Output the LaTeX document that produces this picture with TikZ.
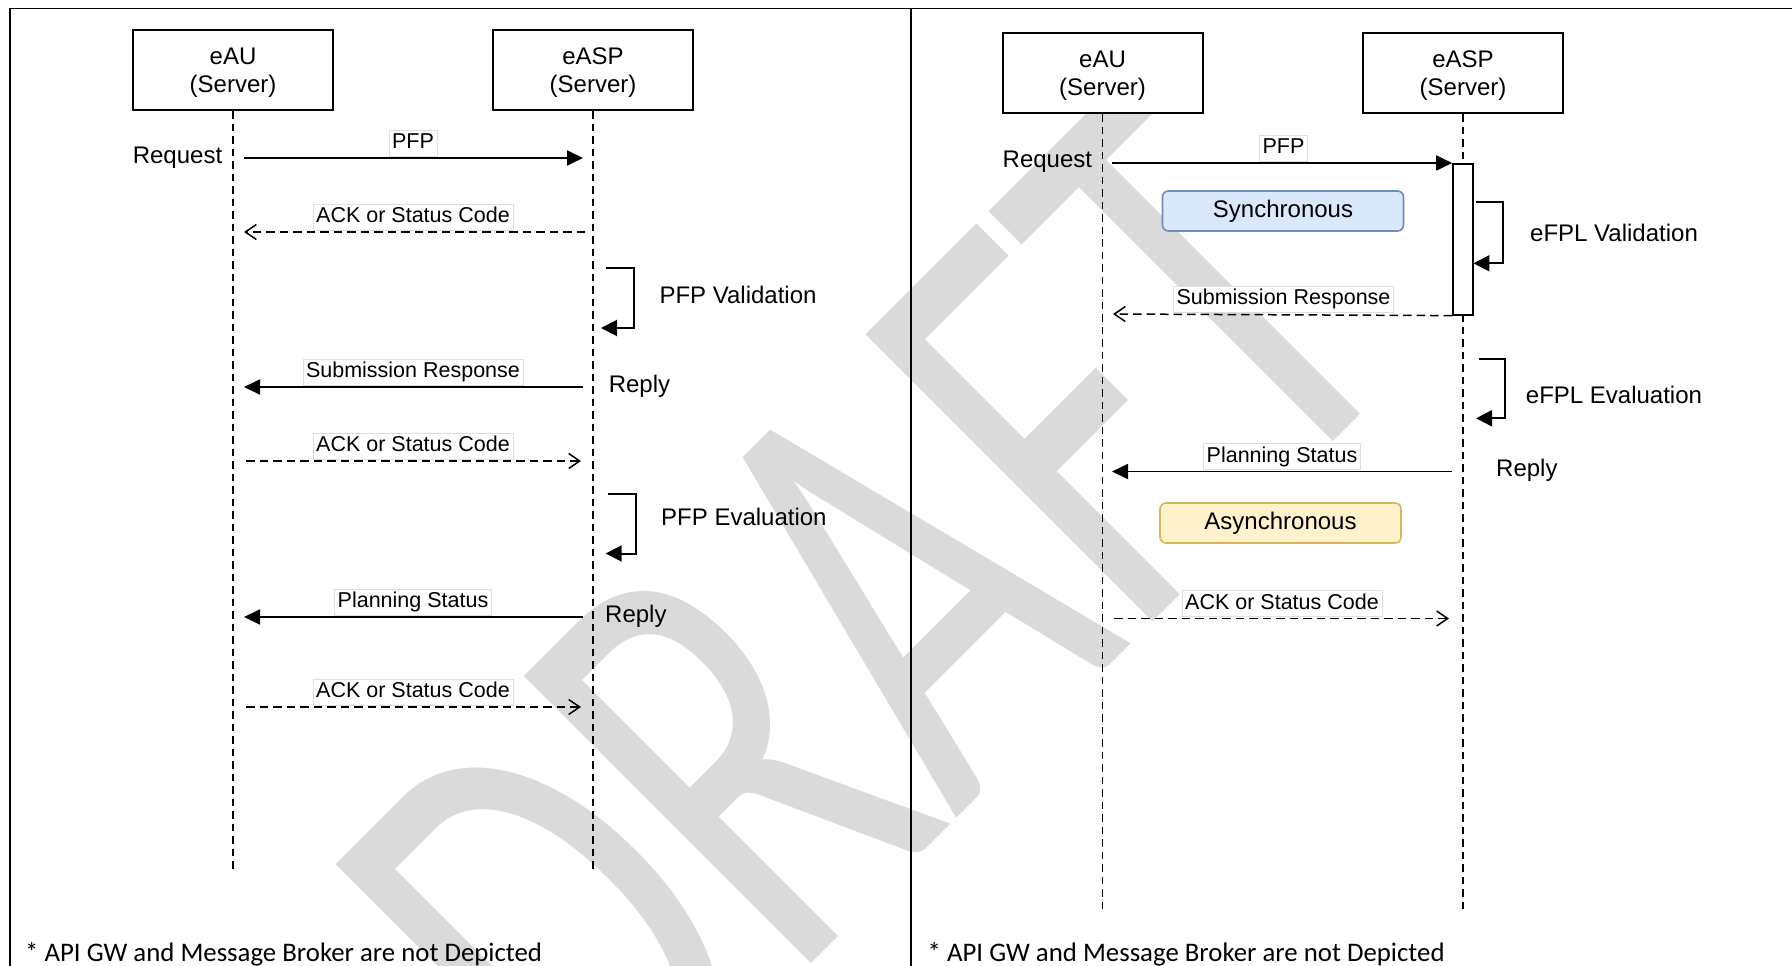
\documentclass[tikz,border=0pt]{standalone}
\usepackage{fontspec}
\setmainfont{Liberation Sans}
\newfontfamily\carlito{Carlito}
\usetikzlibrary{arrows.meta}
\definecolor{wmgray}{RGB}{218,218,218}
\definecolor{syncfill}{HTML}{DAE8FC}
\definecolor{syncdraw}{HTML}{6C8EBF}
\definecolor{asyncfill}{HTML}{FFF2CC}
\definecolor{asyncdraw}{HTML}{D6B656}
\definecolor{lblborder}{RGB}{222,222,222}
\begin{document}
\begin{tikzpicture}[x=1pt,y=-1pt,
  actor/.style={draw, line width=2pt, fill=white, minimum width=200pt, minimum height=80pt, inner sep=0pt},
  actortxt/.style={inner sep=0pt, align=center, font=\fontsize{24}{28}\selectfont},
  life/.style={line width=1.4pt, dash pattern=on 7.5pt off 5pt},
  msg/.style={line width=1.8pt, -{Triangle[length=16pt,width=15pt]}},
  ret/.style={line width=1.5pt, dash pattern=on 8.5pt off 5pt, -{Straight Barb[length=11pt,width=15pt,line width=1.5pt]}},
  lbl/.style={fill=white, draw=lblborder, line width=0.6pt, inner xsep=3pt, inner ysep=3pt, anchor=south, font=\fontsize{21.5}{24}\selectfont, text height=15.5pt, text depth=4.5pt},
  bigtxt/.style={anchor=base west, inner sep=0pt, font=\fontsize{24}{28}\selectfont},
  selfcall/.style={line width=2pt, -{Triangle[length=16pt,width=16pt]}},
  note/.style={draw, line width=1.6pt, rounded corners=6pt, minimum width=241pt, minimum height=40pt, inner sep=0pt, font=\fontsize{24}{28}\selectfont},
  frameline/.style={line width=1.4pt},
  foot/.style={anchor=base west, inner sep=0pt, font=\carlito\fontsize{26.8}{30}\selectfont},
]
\useasboundingbox (0,0) rectangle (1792,966);
\begin{scope}
\clip (0,0) rectangle (1792,966);
\node[rotate=45, xscale=4.32, yscale=6.33, transform shape, anchor=base, inner sep=0pt, text=wmgray, font=\carlito\fontsize{100}{100}\selectfont] (wm) at (1012,763) {DRAFT};
\end{scope}

% frame
\coordinate (ftl) at (10,8.5);
\coordinate (ftr) at (1792,8.5);
\coordinate (fbl) at (10,966);
\coordinate (fdt) at (911,8.5);
\coordinate (fdb) at (911,966);
\draw[frameline] (fbl) -- (ftl) -- (ftr);
\draw[frameline] (fdt) -- (fdb);

% ===== left panel =====
\node[actor] (eauL) at (233,70) {};
\node[actor] (easpL) at (593,70) {};
\node[actortxt] (eauLt) at (233,73) {eAU\\(Server)};
\node[actortxt] (easpLt) at (593,73) {eASP\\(Server)};
\coordinate (eauLend) at (233,870);
\coordinate (easpLend) at (593,870);
\draw[life] (eauL.south) -- (eauLend);
\draw[life] (easpL.south) -- (easpLend);

\coordinate (a1s) at (244,158);   \coordinate (a1e) at (583,158);
\coordinate (a2s) at (585,232);   \coordinate (a2e) at (244,232);
\coordinate (a3s) at (583,387);   \coordinate (a3e) at (244,387);
\coordinate (a4s) at (246,461);   \coordinate (a4e) at (581,461);
\coordinate (a5s) at (583,617);   \coordinate (a5e) at (244,617);
\coordinate (a6s) at (246,707);   \coordinate (a6e) at (581,707);

\draw[msg] (a1s) -- (a1e);
\draw[ret] (a2s) -- (a2e);
\draw[msg] (a3s) -- (a3e);
\draw[ret] (a4s) -- (a4e);
\draw[msg] (a5s) -- (a5e);
\draw[ret] (a6s) -- (a6e);

\node[lbl] (l1) at (413,156.5) {PFP};
\node[lbl] (l2) at (413,230.5) {ACK or Status Code};
\node[lbl] (l3) at (413,385.5) {Submission Response};
\node[lbl] (l4) at (413,459.5) {ACK or Status Code};
\node[lbl] (l5) at (413,615.5) {Planning Status};
\node[lbl] (l6) at (413,705.5) {ACK or Status Code};

\coordinate (v1s) at (606,268);   \coordinate (v1e) at (601,328);
\coordinate (v2s) at (608,493.6); \coordinate (v2e) at (605.7,553.5);
\draw[selfcall] (v1s) -- ++(28,0) |- (v1e);
\draw[selfcall] (v2s) -- ++(27.5,0) |- (v2e);

\node[bigtxt] (reqL) at (132.6,163.3) {Request};
\node[bigtxt] (valL) at (659.3,303.6) {PFP Validation};
\node[bigtxt] (evaL) at (661,525.6) {PFP Evaluation};
\node[bigtxt] (rep1L) at (608.6,392) {Reply};
\node[bigtxt] (rep2L) at (605,622) {Reply};

\node[foot] (fnL) at (25,961) {* API GW and Message Broker are not Depicted};

% ===== right panel =====
\node[actor] (eauR) at (1102.5,73) {};
\node[actor] (easpR) at (1463,73) {};
\node[actortxt] (eauRt) at (1102.5,76) {eAU\\(Server)};
\node[actortxt] (easpRt) at (1463,76) {eASP\\(Server)};
\coordinate (eauRend) at (1102.5,910);
\coordinate (easpRend) at (1463,910);
\draw[life] (eauR.south) -- (eauRend);
\draw[life] (easpR.south) -- (easpRend);

\node[draw, fill=white, line width=1.6pt, minimum width=20pt, minimum height=151pt, inner sep=0pt, anchor=north] (act) at (1463,163) {};

\coordinate (b1s) at (1112,163);
\coordinate (b2e) at (1113,314);
\coordinate (b3s) at (1452,471.5); \coordinate (b3e) at (1112,471.5);
\coordinate (b4s) at (1114,618.5); \coordinate (b4e) at (1449,618.5);

\draw[msg] (b1s) -- (act.north west);
\draw[ret] (act.south west) -- (b2e);
\draw[msg] (b3s) -- (b3e);
\draw[ret] (b4s) -- (b4e);

\node[lbl] (r1) at (1283.5,161.5) {PFP};
\node[lbl] (r2) at (1283.5,312.5) {Submission Response};
\node[lbl] (r3) at (1282,470) {Planning Status};
\node[lbl] (r4) at (1282,617) {ACK or Status Code};

\node[note, draw=syncdraw, fill=syncfill] (sync) at (1283,211) {Synchronous};
\node[note, draw=asyncdraw, fill=asyncfill] (async) at (1280.5,523) {Asynchronous};

\coordinate (w1s) at (1476,202.3); \coordinate (w1e) at (1473.4,263.3);
\coordinate (w2s) at (1479,359.3); \coordinate (w2e) at (1476,418.3);
\draw[selfcall] (w1s) -- ++(27,0) |- (w1e);
\draw[selfcall] (w2s) -- ++(26,0) |- (w2e);

\node[bigtxt] (reqR) at (1002.5,167.9) {Request};
\node[bigtxt] (valR) at (1530,241.7) {eFPL Validation};
\node[bigtxt] (evaR) at (1525.7,403.3) {eFPL Evaluation};
\node[bigtxt] (repR) at (1496,476.7) {Reply};

\node[foot] (fnR) at (927.5,961) {* API GW and Message Broker are not Depicted};
\end{tikzpicture}
\end{document}
